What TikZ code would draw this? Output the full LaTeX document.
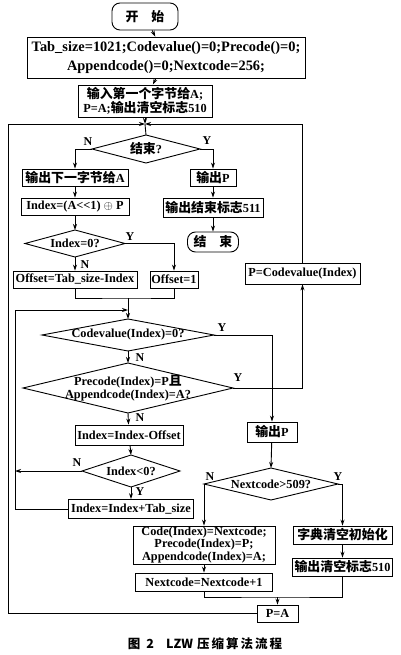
\documentclass[tikz,border=0pt]{standalone}
\usepackage{fontspec}
\setmainfont{Liberation Serif}
\newfontfamily\cjk[Scale=1.05]{Noto Sans CJK SC}
\newfontfamily\capfont{Noto Sans CJK SC}
\usetikzlibrary{arrows.meta}
\newcommand\mydia[5]{%
  \coordinate (#1t) at (#2,#3-#5);
  \coordinate (#1b) at (#2,#3+#5);
  \coordinate (#1l) at (#2-#4,#3);
  \coordinate (#1r) at (#2+#4,#3);
  \draw (#1t) -- (#1r) -- (#1b) -- (#1l) -- cycle;
}
\begin{document}
\begin{tikzpicture}[x=1pt,y=-1pt,line width=0.9pt,
  box/.style={draw,inner sep=0pt,align=center,font=\bfseries\fontsize{12.3}{13.5}\selectfont},
  txt/.style={inner sep=0pt,align=center,font=\bfseries\fontsize{12.3}{13.5}\selectfont},
  term/.style={box,rounded corners=8pt},
  lab/.style={inner sep=0pt,font=\bfseries\fontsize{12}{12}\selectfont},
  arr/.style={-{Stealth[length=6pt,width=4pt]}}]
\useasboundingbox (0,0) rectangle (400,655);
% nodes
\node[term,minimum width=66pt,minimum height=27pt] (st) at (145,16.5) {{\cjk 开\quad 始}};
\node[box,font=\bfseries\fontsize{14.4}{19}\selectfont,minimum width=278pt,minimum height=41pt] (b1) at (166,57.5) {Tab\_size=1021;Codevalue()=0;Precode()=0;\\Appendcode()=0;Nextcode=256;};
\node[box,minimum width=134pt,minimum height=32pt] (b2) at (145,101) {{\cjk 输入第一个字节给}A;\\P=A;{\cjk 输出清空标志}510};
\coordinate (J) at (145,124);
\mydia{d1}{146}{149}{54}{14}
\node[txt] (d1) at (146,149) {{\cjk 结束}?};
\node[box,minimum width=106pt,minimum height=17pt] (b3) at (75,177.5) {{\cjk 输出下一字节给}A};
\node[box,minimum width=108pt,minimum height=17pt] (b4) at (75,206.5) {Index=(A<{}<1) $\oplus$ P};
\mydia{d2}{75}{243.5}{50}{13.5}
\node[txt] (d2) at (75,243.5) {Index=0?};
\node[box,minimum width=124pt,minimum height=17pt] (b5) at (75,279.5) {Offset=Tab\_size-Index};
\node[box,minimum width=48pt,minimum height=17pt] (b6) at (174,279.5) {Offset=1};
\coordinate (M1) at (128,298);
\coordinate (K) at (128,310);
\coordinate (L1) at (15,310);
\coordinate (L2) at (15,471);
\coordinate (L3) at (8,124);
\mydia{d3}{128}{335}{86}{16}
\node[txt] (d3) at (128,335) {Codevalue(Index)=0?};
\mydia{d4}{128}{388}{105}{25}
\node[txt] (d4) at (128,388) {Precode(Index)=P{\cjk 且}\\Appendcode(Index)=A?};
\node[box,minimum width=108pt,minimum height=20pt] (b8) at (129,435) {Index=Index-Offset};
\mydia{d5}{131}{471}{49}{16}
\node[txt] (d5) at (131,471) {Index<0?};
\node[box,minimum width=125pt,minimum height=19pt] (b10) at (131,509) {Index=Index+Tab\_size};
\node[box,minimum width=46pt,minimum height=17pt] (bo1) at (213,177.5) {{\cjk 输出}P};
\node[box,minimum width=100pt,minimum height=19pt] (bo2) at (213,207.5) {{\cjk 输出结束标志}511};
\node[term,minimum width=51pt,minimum height=20pt] (en) at (213,242) {{\cjk 结\quad 束}};
\node[box,minimum width=115pt,minimum height=21pt] (b7) at (302.5,273.5) {P=Codevalue(Index)};
\node[box,minimum width=50pt,minimum height=20pt] (b9) at (272,432) {{\cjk 输出}P};
\mydia{d6}{271}{484}{67}{16}
\node[txt] (d6) at (271,484) {Nextcode>509?};
\node[box,minimum width=142pt,minimum height=38pt,font=\bfseries\fontsize{12.3}{12.3}\selectfont] (b11) at (204,545) {Code(Index)=Nextcode;\\Precode(Index)=P;\\Appendcode(Index)=A;};
\node[box,minimum width=137pt,minimum height=18pt] (b13) at (204,582) {Nextcode=Nextcode+1};
\node[box,minimum width=99pt,minimum height=18pt] (b12) at (342.5,535) {{\cjk 字典清空初始化}};
\node[box,minimum width=100pt,minimum height=18pt] (b14) at (342.5,567) {{\cjk 输出清空标志}510};
\coordinate (M2) at (277.5,597);
\node[box,minimum width=41pt,minimum height=17pt] (b15) at (277.5,613.5) {P=A};
% connectors
\draw[arr] (st) -- (b1);
\draw[arr] (b1) -- (b2);
\draw[arr] (b2) -- (J);
\draw (J) -- (d1t);
\draw[arr] (d1l) -| (b3);
\draw[arr] (b3) -- (b4);
\draw[arr] (b4) -- (d2t);
\draw[arr] (d2b) -- (b5);
\draw[arr] (d2r) -| (b6);
\draw (b5.south) |- (M1) -| (b6.south);
\draw[arr] (M1) -- (d3t);
\draw[arr] (b10.west) -| (L1) -- (K);
\draw[arr] (d5l) -- (L2);
\draw[arr] (d3b) -- (d4t);
\draw[arr] (d4b) -- (b8);
\draw[arr] (b8) -- (d5t);
\draw[arr] (d5b) -- (b10);
\draw[arr] (d3r) -| (b9);
\draw[arr] (d4r) -| (b7.south);
\draw[arr] (b7.north) |- (J);
\draw[arr] (b15.west) -| (L3) -- (J);
\draw[arr] (d1r) -| (bo1);
\draw[arr] (bo1) -- (bo2);
\draw[arr] (bo2) -- (en);
\draw[arr] (b9) -- (d6t);
\draw[arr] (d6l) -- (b11.north);
\draw[arr] (d6r) -| (b12);
\draw[arr] (b11) -- (b13);
\draw[arr] (b12) -- (b14);
\draw (b13.south) |- (M2) -| (b14.south);
\draw[arr] (M2) -- (b15);
% labels
\node[lab] (n1) at (88,142) {N};
\node[lab] (y1) at (207,141) {Y};
\node[lab] (y2) at (130,237) {Y};
\node[lab] (n2) at (85,265) {N};
\node[lab] (y3) at (222,328) {Y};
\node[lab] (n3) at (140,358) {N};
\node[lab] (y4) at (238,378) {Y};
\node[lab] (n4) at (140,418) {N};
\node[lab] (n5) at (77,463) {N};
\node[lab] (y5) at (140,492) {Y};
\node[lab] (n6) at (210,477) {N};
\node[lab] (y6) at (338,477) {Y};
% caption
\node[inner sep=0pt,font=\capfont\bfseries\fontsize{12.5}{13}\selectfont] (cap) at (205,644) {图\hspace{6pt}2\hspace{12pt}LZW\hspace{4pt}压\kern2pt 缩\kern2pt 算\kern2pt 法\kern2pt 流\kern2pt 程};
\end{tikzpicture}
\end{document}
